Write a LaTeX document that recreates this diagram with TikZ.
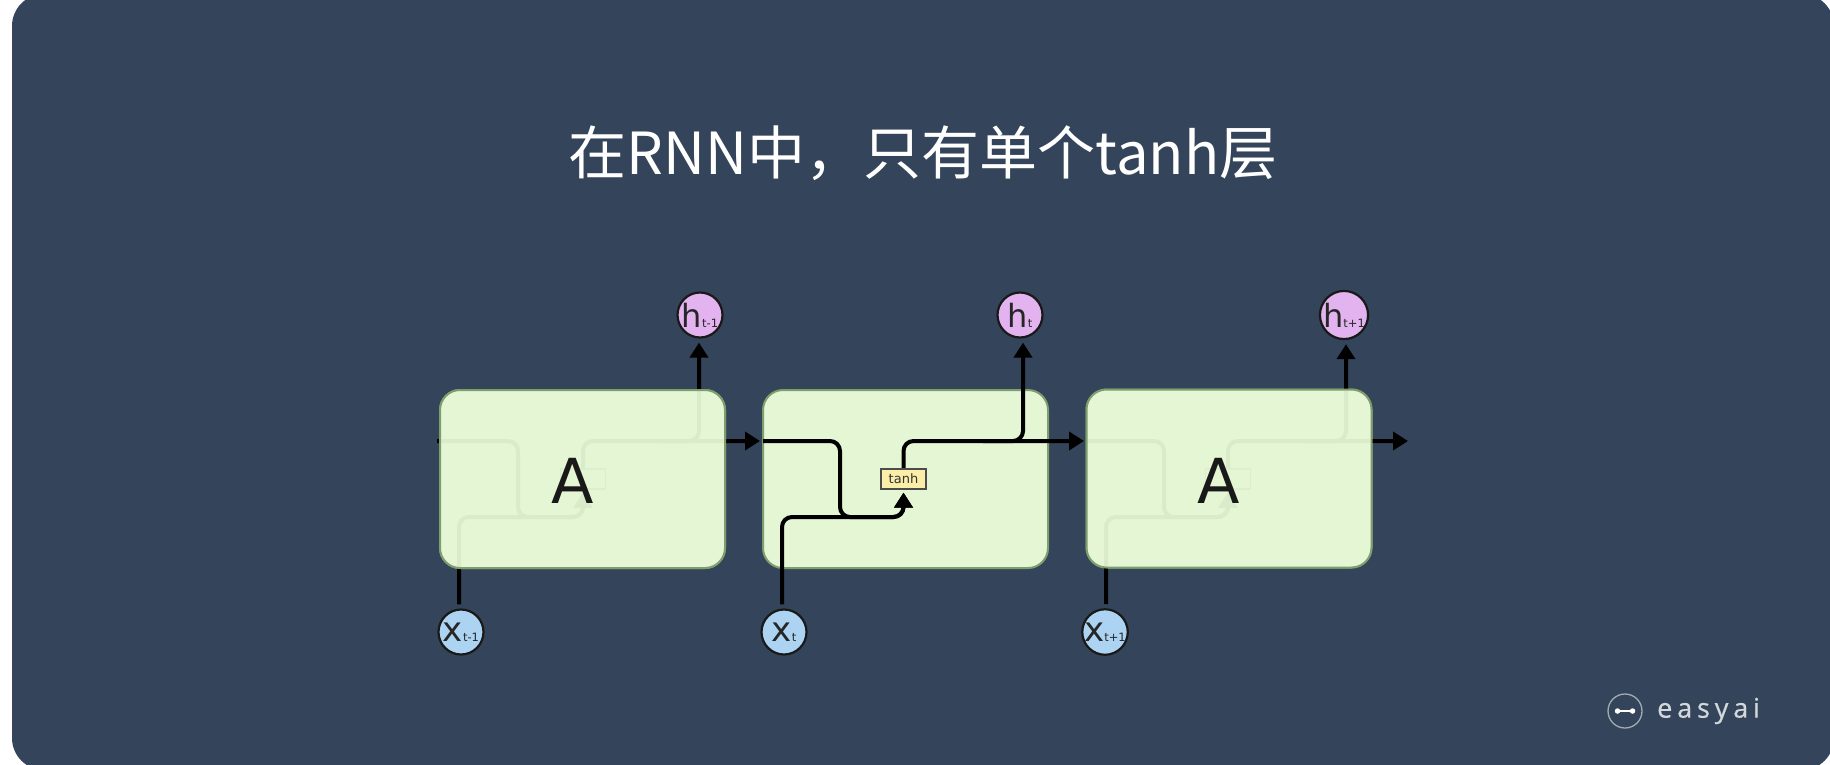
\documentclass[tikz,border=0pt]{standalone}
\usepackage{fontspec}
\setmainfont{DejaVu Sans}
\newfontfamily\cjkfont{Noto Sans CJK SC}
\newfontfamily\logofont[LetterSpace=18,FakeBold=0.5]{Open Sans}
\usetikzlibrary{arrows.meta,calc}
\definecolor{cardbg}{HTML}{34445A}
\definecolor{boxfill}{HTML}{E4F6D3}
\definecolor{boxedge}{HTML}{7E9E6E}
\definecolor{hfill}{HTML}{E2B3EE}
\definecolor{xfill}{HTML}{ACD4F2}
\definecolor{tanhfill}{HTML}{FBEEA8}
\definecolor{logoring}{HTML}{A3ABB5}
\definecolor{logotext}{HTML}{D3D8DD}
\pgfdeclarelayer{back}
\pgfdeclarelayer{wirelayer}
\tikzset{
  cellbox/.style={rectangle,rounded corners=20pt,minimum width=285pt,minimum height=178pt,inner sep=0pt,draw=boxedge,line width=2pt,fill=boxfill},
  veilbox/.style={cellbox,fill opacity=0.955,draw opacity=1},
  wire/.style={draw=black,line width=4pt,rounded corners=10pt},
  tip/.style={-{Triangle[length=15pt,width=18pt]}},
  circbase/.style={circle,draw=black!90,line width=2.2pt,minimum size=45pt,inner sep=0pt,text=black!85},
  hcirc/.style={circbase,fill=hfill},
  xcirc/.style={circbase,fill=xfill},
  tanhbox/.style={rectangle,draw=black!70,line width=1.2pt,minimum width=45pt,minimum height=20pt,inner sep=0pt,text=black!80,font=\fontsize{13}{13}\selectfont},
  bigA/.style={font=\fontsize{62}{62}\selectfont,text=black!90,inner sep=0pt},
}
\newcommand{\circlabel}[3]{{\fontsize{#1}{#1}\selectfont #2}{\fontsize{11.5}{11.5}\selectfont #3}}
\begin{document}
\begin{tikzpicture}[x=1pt,y=-1pt]
\pgfsetlayers{back,wirelayer,main}
\useasboundingbox (0,0) rectangle (1830,764);
\begin{pgfonlayer}{back}
  \fill[white] (0,0) rectangle (1830,764);
  \fill[cardbg,rounded corners=32pt] (12,-6) rectangle (1834,770);
  \node[cellbox] (b2) at (905.5,479) {};
  \node[cellbox] (u1) at (582.5,479) {};
  \node[cellbox] (u3) at (1229,478.5) {};
\end{pgfonlayer}
% title
\node[text=white,inner sep=0pt,font=\cjkfont\fontsize{58}{58}\selectfont] (title) at (923,153) {在RNN中，只有单个tanh层};
% overlaid cells
\node[veilbox] (b1) at (582.5,479) {};
\node[veilbox] (b3) at (1229,478.5) {};
\node[bigA] (a1) at (573,481) {A};
\node[bigA] (a3) at (1219,481) {A};
% circles
\node[hcirc] (h1) at (700,315) {\circlabel{32}{h}{t-1}};
\node[hcirc] (h2) at (1020,315) {\circlabel{32}{h}{t}};
\node[hcirc] (h3) at (1344,315) {\circlabel{32}{h}{t+1}};
\node[xcirc] (x1) at (461,632) {\circlabel{34}{x}{t-1}};
\node[xcirc] (x2) at (784,632) {\circlabel{34}{x}{t}};
\node[xcirc] (x3) at (1105,632) {\circlabel{34}{x}{t+1}};
% tanh
\node[tanhbox,fill=tanhfill] (t2) at (903.5,479) {tanh};
\begin{pgfonlayer}{wirelayer}
  \node[tanhbox] (t1) at (583,479) {};
  \node[tanhbox] (t3) at (1228,479) {};
  \coordinate (s1) at (437,441);
  \coordinate (s2) at (763,441);
  \coordinate (s3) at (1086,441);
  \coordinate (nx1) at (760,441);
  \coordinate (nx2) at (1084,441);
  \coordinate (nx3) at (1408,441);
  \foreach \n/\xa/\xb/\xc/\xd in {1/459/518/583/699,2/782/840/903.5/1023,3/1106/1164/1228/1346}{
    \coordinate (xv\n) at (\xa,517);
    \coordinate (sv\n) at (\xb,441);
    \coordinate (sw\n) at (\xb,517);
    \coordinate (ta\n) at (\xc,517);
    \coordinate (tb\n) at (\xc,441);
    \coordinate (jn\n) at (\xd,441);
    % previous state into tanh
    \draw[wire,tip,shorten >=3pt] (s\n) -- (sv\n) -- (sw\n) -- (ta\n) -- (t\n.south);
    % input into tanh
    \draw[wire,tip,shorten <=4pt,shorten >=3pt] (xv\n |- x\n.north) -- (xv\n) -- (ta\n) -- (t\n.south);
    % tanh to next state
    \draw[wire,tip] (t\n.north) -- (tb\n) -- (nx\n);
    % branch to output
    \draw[wire,tip,shorten >=4pt] ($(jn\n)+(-40,0)$) -- (jn\n) -- (jn\n |- h\n.south);
  }
\end{pgfonlayer}
% logo
\node[circle,draw=logoring,line width=1.3pt,minimum size=34pt,inner sep=0pt] (ring) at (1625,711) {};
\node[circle,fill=white,minimum size=5.5pt,inner sep=0pt] (dotl) at (1617.5,711) {};
\node[circle,fill=white,minimum size=5.5pt,inner sep=0pt] (dotr) at (1632.5,711) {};
\draw[white,line width=1.2pt] (dotl) -- (dotr);
\node[anchor=west,inner sep=0pt,text=logotext,font=\logofont\fontsize{27}{27}\selectfont] (brand) at (1657,711) {easyai};
\end{tikzpicture}
\end{document}
